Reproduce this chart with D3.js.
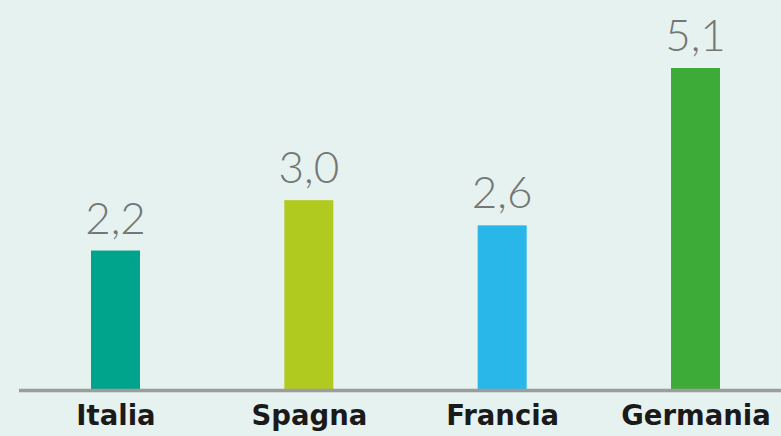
<!DOCTYPE html>
<html>
<head>
<meta charset="utf-8">
<script src="https://cdn.jsdelivr.net/npm/d3@7"></script>
<style>
  html, body { margin: 0; padding: 0; background: #e6f2ef; }
  svg { display: block; }
</style>
</head>
<body>
<svg id="chart" width="781" height="436"></svg>
<script>
const categories = ["Italia", "Spagna", "Francia", "Germania"];
const values = [2.2, 3.0, 2.6, 5.1];
const valueLabels = ["2,2", "3,0", "2,6", "5,1"];
const colors = ["#00a38b", "#b1ca1f", "#29b6e9", "#3cab37"];

const W = 781, H = 436;
const baseY = 389;
const barW = 49;

const svg = d3.select("#chart");

svg.append("rect").attr("width", W).attr("height", H).attr("fill", "#e6f2ef");

const x = d3.scalePoint().domain(categories).range([115.5, 695.5]);
const y = d3.scaleLinear().domain([0, 5.1]).range([baseY, 68]);

const data = categories.map((c, i) => ({ c, v: values[i], label: valueLabels[i], color: colors[i] }));

// bars
svg.append("g").selectAll("rect").data(data).join("rect")
  .attr("x", d => x(d.c) - barW / 2)
  .attr("y", d => y(d.v))
  .attr("width", barW)
  .attr("height", d => y(0) - y(d.v))
  .attr("fill", d => d.color);

// baseline
svg.append("line")
  .attr("x1", 19).attr("x2", W)
  .attr("y1", baseY + 1.5).attr("y2", baseY + 1.5)
  .attr("stroke", "#9a9d9c").attr("stroke-width", 3.5);

// value labels
svg.append("g").selectAll("text").data(data).join("text")
  .attr("x", d => x(d.c))
  .attr("y", d => y(d.v) - 17)
  .attr("text-anchor", "middle")
  .attr("font-family", "Lato, 'Open Sans', sans-serif")
  .attr("font-weight", 300)
  .attr("font-size", 44)
  .attr("fill", "#737877")
  .text(d => d.label);

// category axis labels
const xAxis = d3.axisBottom(x).tickSize(0).tickPadding(0);
const ax = svg.append("g").attr("transform", `translate(0,${baseY})`).call(xAxis);
ax.select(".domain").remove();
ax.selectAll("text")
  .attr("dy", null)
  .attr("y", 36)
  .attr("font-family", "'DejaVu Sans', sans-serif")
  .attr("font-weight", 700)
  .attr("font-size", 27.5)
  .attr("fill", "#1a1a1a");
</script>
</body>
</html>
